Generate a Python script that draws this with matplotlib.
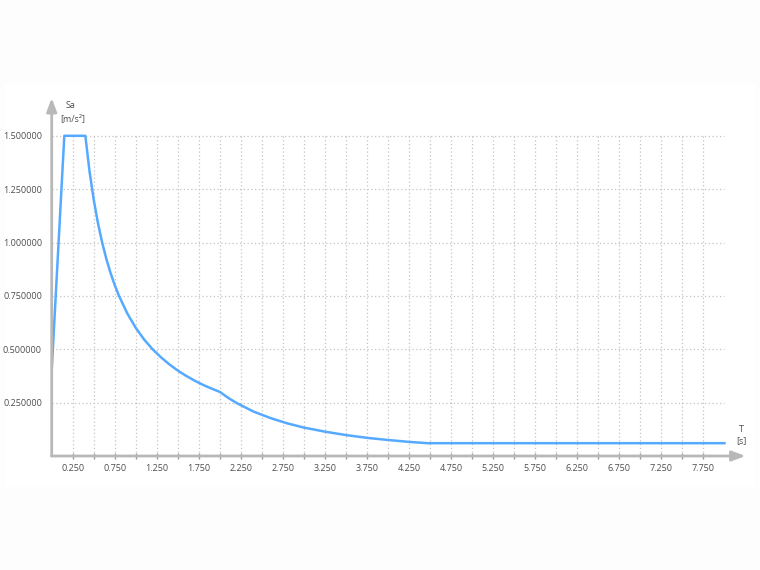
import matplotlib.pyplot as plt
from matplotlib.patches import Rectangle

# response spectrum
period = [0.0, 0.15, 0.4, 0.45, 0.5, 0.55, 0.6, 0.65, 0.7, 0.75, 0.8, 0.9, 1.0, 1.1, 1.2,
          1.3, 1.4, 1.5, 1.6, 1.7, 1.8, 1.9, 2.0, 2.1, 2.2, 2.4, 2.6, 2.8, 3.0, 3.25,
          3.5, 3.75, 4.0, 4.25, 4.47, 8.0]
sa = [0.40, 1.50, 1.50, 1.333, 1.20, 1.091, 1.00, 0.923, 0.857, 0.80, 0.75, 0.667, 0.60,
      0.545, 0.50, 0.462, 0.429, 0.40, 0.375, 0.353, 0.333, 0.316, 0.30, 0.272, 0.248,
      0.208, 0.178, 0.153, 0.133, 0.114, 0.098, 0.085, 0.075, 0.066, 0.06, 0.06]

x_ticks = [i * 0.25 for i in range(1, 32)]
x_labels = ['%.3f' % t if i % 2 == 0 else '' for i, t in enumerate(x_ticks)]
y_ticks = [0.25, 0.5, 0.75, 1.0, 1.25, 1.5]
y_labels = ['%.6f' % v for v in y_ticks]

grey = '#b8b8b8'
txt = '#4d4d4d'
plt.rcParams['font.family'] = ['Open Sans', 'DejaVu Sans']

fig = plt.figure(figsize=(7.6, 5.7), dpi=100, facecolor='#fdfdfd')
fig.patches.append(Rectangle((5 / 760, 1 - 487 / 570), 750 / 760, 404 / 570,
                             transform=fig.transFigure, facecolor='white',
                             edgecolor='none', zorder=-10))

ax = fig.add_axes([51.7 / 760, 114 / 570, 693.8 / 760, 358 / 570])
ax.set_facecolor('none')
ax.set_xlim(0, 8.25)
ax.set_ylim(0, 1.677)
for s in ax.spines.values():
    s.set_visible(False)

# grid (only over the data area)
ax.hlines(y_ticks, 0, 8.0, colors='#c4c4c4', linestyles=(0, (1, 2)), linewidth=0.9, zorder=1)
ax.vlines(x_ticks, 0, 1.5, colors='#c4c4c4', linestyles=(0, (1, 2)), linewidth=0.9, zorder=1)

ax.plot(period, sa, color='#55aaff', linewidth=1.8, zorder=3)

# axes with arrows
ax.annotate('', xy=(1.0, 0), xytext=(0, 0), xycoords='axes fraction',
            arrowprops=dict(arrowstyle='-|>,head_length=0.8,head_width=0.3', color=grey, lw=2,
                            shrinkA=0, shrinkB=0), annotation_clip=False)
ax.annotate('', xy=(0, 1.0), xytext=(0, 0), xycoords='axes fraction',
            arrowprops=dict(arrowstyle='-|>,head_length=0.8,head_width=0.3', color=grey, lw=2,
                            shrinkA=0, shrinkB=0), annotation_clip=False)

ax.set_xticks(x_ticks)
ax.set_xticklabels(x_labels)
ax.set_yticks(y_ticks)
ax.set_yticklabels(y_labels)
ax.tick_params(axis='x', direction='inout', length=5, width=1, color='#999999',
               labelsize=6.5, labelcolor=txt, pad=3)
ax.tick_params(axis='y', length=0, labelsize=6.5, labelcolor=txt, pad=7)

ax.text(0.22, 1.64, 'Sa', ha='center', va='center', fontsize=6.5, color=txt)
ax.text(0.25, 1.58, '[m/s²]', ha='center', va='center', fontsize=6.5, color=txt)
ax.text(8.2, 0.125, 'T', ha='center', va='center', fontsize=6.5, color=txt)
ax.text(8.2, 0.07, '[s]', ha='center', va='center', fontsize=6.5, color=txt)

fig.savefig('out.png', dpi=100)
